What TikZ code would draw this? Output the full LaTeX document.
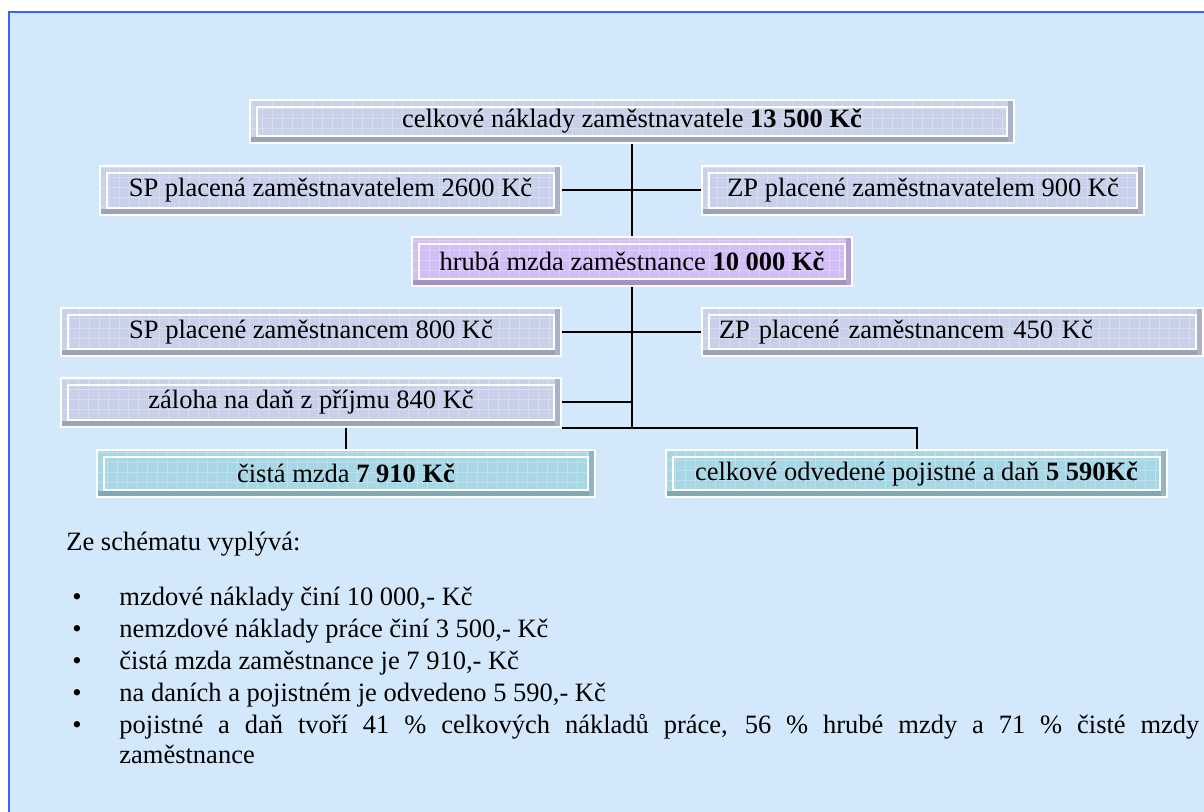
\documentclass[tikz,border=0pt]{standalone}
\usepackage{fontspec}
\setmainfont{Liberation Serif}
\usepackage{tikz}
\usetikzlibrary{positioning,calc}
\definecolor{panelfill}{HTML}{D4E8FC}
\definecolor{panelline}{HTML}{3366FF}
\definecolor{boxgray}{HTML}{C9D1EA}
\definecolor{boxpurple}{HTML}{D3BDF7}
\definecolor{boxteal}{HTML}{A7D7E5}

\tikzset{
  bevel/.style={draw=white, line width=1pt, fill=#1, inner sep=0pt,
    font=\fontsize{13.25}{15}\selectfont,
    path picture={
      \draw[#1!75!white, line width=0.25pt, step=5pt]
        (path picture bounding box.south west) grid (path picture bounding box.north east);
      \fill[#1!78!black] (path picture bounding box.south west)
        rectangle ($(path picture bounding box.south east)+(0,3pt)$);
      \fill[#1!85!black] ($(path picture bounding box.south east)+(-3pt,0)$)
        rectangle (path picture bounding box.north east);
      \draw[white, line width=0.8pt] ($(path picture bounding box.south west)+(3.5pt,3.5pt)$)
        rectangle ($(path picture bounding box.north east)+(-3.5pt,-3.5pt)$);
    }},
  wire/.style={line width=1pt, black},
  note/.style={anchor=base west, inner sep=0pt, font=\fontsize{13.25}{15}\selectfont},
}

\begin{document}
\begin{tikzpicture}[x=0.5pt, y=-0.5pt]
  \useasboundingbox (0,0) rectangle (1204,812);
  \fill[panelfill] (9,12) rectangle (1204,812);
  \draw[panelline, line width=1pt] (9,812) -- (9,12) -- (1204,12);

  % schema
  \node[bevel=boxgray, minimum width=382pt, minimum height=21.5pt] (total) at (632,121.5) {celkové náklady zaměstnavatele \textbf{13 500 Kč}};
  \node[bevel=boxgray, minimum width=230.5pt, minimum height=24.5pt] (spzl) at (330.5,190.5) {SP placená zaměstnavatelem 2600 Kč};
  \node[bevel=boxgray, minimum width=221pt, minimum height=24.5pt] (zpzl) at (923,190.5) {ZP placené zaměstnavatelem 900 Kč};
  \node[bevel=boxpurple, minimum width=220pt, minimum height=24.5pt] (hruba) at (632,261.5) {hrubá mzda zaměstnance \textbf{10 000 Kč}};
  \node[bevel=boxgray, minimum width=250pt, minimum height=24pt] (spzc) at (311,332) {SP placené zaměstnancem 800 Kč};
  \node[bevel=boxgray, minimum width=250.5pt, minimum height=24pt, text width=233.5pt, align=left] (zpzc) at (952.5,332) {ZP placené zaměstnancem 450 Kč};
  \node[bevel=boxgray, minimum width=250pt, minimum height=24.5pt] (zaloha) at (311,402.5) {záloha na daň z příjmu 840 Kč};
  \node[bevel=boxteal, minimum width=249pt, minimum height=23.5pt] (cista) at (346,473.5) {čistá mzda \textbf{7 910 Kč}};
  \node[bevel=boxteal, minimum width=250.5pt, minimum height=23.5pt] (odvod) at (916.5,473.5) {celkové odvedené pojistné a daň \textbf{5 590Kč}};

  \draw[wire] (total.south -| hruba.north) -- (hruba.north);
  \draw[wire] (spzl.east) -- (zpzl.west);
  \draw[wire] (hruba.south) -- (hruba.south |- zaloha.south);
  \draw[wire] (spzc.east) -- (zpzc.west);
  \draw[wire] (zaloha.east) -- (zaloha.east -| hruba.south);
  \draw[wire] (zaloha.south east) -| (odvod.north);
  \draw[wire] (zaloha.south -| cista.north) -- (cista.north);

  % comments below the schema
  \node[note] (intro) at (66,550) {Ze schématu vyplývá:};
  \node[note] (b1) at (72,605) {•};
  \node[note] (t1) at (119,605) {mzdové náklady činí 10 000,- Kč};
  \node[note] (b2) at (72,637) {•};
  \node[note] (t2) at (119,637) {nemzdové náklady práce činí 3 500,- Kč};
  \node[note] (b3) at (72,669) {•};
  \node[note] (t3) at (119,669) {čistá mzda zaměstnance je 7 910,- Kč};
  \node[note] (b4) at (72,701) {•};
  \node[note] (t4) at (119,701) {na daních a pojistném je odvedeno 5 590,- Kč};
  \node[note] (b5) at (72,733) {•};
  \node[note] (t5) at (119,733) {\makebox[540pt][s]{pojistné a daň tvoří 41 \% celkových nákladů práce, 56 \% hrubé mzdy a 71 \% čisté mzdy}};
  \node[note] (t5b) at (119,763) {zaměstnance};
\end{tikzpicture}
\end{document}
